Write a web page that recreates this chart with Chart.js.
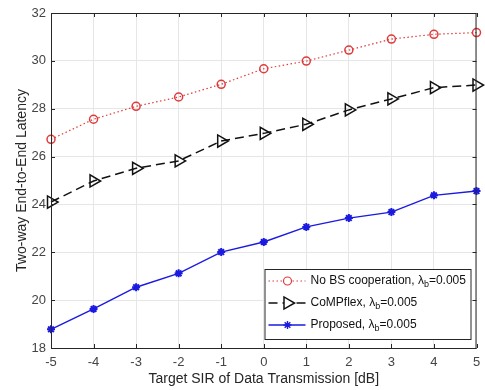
<!DOCTYPE html>
<html>
<head>
<meta charset="utf-8">
<script src="https://cdn.jsdelivr.net/npm/chart.js@4/dist/chart.umd.min.js"></script>
<style>
  html, body { margin: 0; padding: 0; background: #fff; }
  #wrap { width: 485px; height: 390px; }
</style>
</head>
<body>
<div id="wrap"><canvas id="grafico"></canvas></div>
<script>
// --- datos ---
const sirDb = [-5, -4, -3, -2, -1, 0, 1, 2, 3, 4, 5];
const sinCooperacion = [26.72, 27.56, 28.10, 28.49, 29.02, 29.67, 29.99, 30.45, 30.91, 31.11, 31.18];
const compflex = [24.10, 24.98, 25.51, 25.82, 26.65, 26.97, 27.35, 27.95, 28.41, 28.88, 28.99];
const propuesto = [18.78, 19.63, 20.54, 21.12, 22.01, 22.43, 23.06, 23.43, 23.68, 24.38, 24.56];
const yTicks = [18, 20, 22, 24, 26, 28, 30, 32];
const etiquetas = ['No BS cooperation, ', 'CoMPflex, ', 'Proposed, '];
const lambdaTxt = '=0.005';

const FUENTE = '"Liberation Sans", Arial, sans-serif';
const ROJO = '#e03a3a';
const NEGRO = '#111111';
const AZUL = '#1a1ae0';

const series = [
  { label: etiquetas[0], data: sinCooperacion, color: ROJO, dash: [1.5, 2.5], ancho: 1.2, estilo: 'circle', radio: 4, rot: 0 },
  { label: etiquetas[1], data: compflex, color: NEGRO, dash: [9, 5], ancho: 1.5, estilo: 'triangle', radio: 7, rot: 90 },
  { label: etiquetas[2], data: propuesto, color: AZUL, dash: [], ancho: 1.4, estilo: 'star', radio: 4, rot: 0 }
];

// caja alrededor del area de trazado (estilo MATLAB) con marcas hacia dentro
const cajaPlugin = {
  id: 'caja',
  afterDatasetsDraw(chart) {
    const { ctx, chartArea: a, scales } = chart;
    ctx.save();
    ctx.strokeStyle = '#262626';
    ctx.lineWidth = 1;
    ctx.beginPath();
    scales.x.ticks.forEach(t => {
      const px = Math.round(scales.x.getPixelForValue(t.value)) + 0.5;
      ctx.moveTo(px, a.bottom); ctx.lineTo(px, a.bottom - 4);
      ctx.moveTo(px, a.top); ctx.lineTo(px, a.top + 4);
    });
    yTicks.forEach(v => {
      const py = Math.round(scales.y.getPixelForValue(v)) + 0.5;
      ctx.moveTo(a.left, py); ctx.lineTo(a.left + 4, py);
      ctx.moveTo(a.right, py); ctx.lineTo(a.right - 4, py);
    });
    ctx.stroke();
    ctx.strokeRect(a.left + 0.5, a.top + 0.5, a.right - a.left - 1, a.bottom - a.top);
    ctx.restore();
  }
};

// leyenda propia, para poder escribir el subindice de lambda
const leyendaPlugin = {
  id: 'leyenda',
  afterDraw(chart) {
    const { ctx, chartArea: a } = chart;
    const x0 = a.right - 212, y0 = a.bottom - 79, w = 206, h = 70;
    ctx.save();
    ctx.fillStyle = '#fff';
    ctx.fillRect(x0, y0, w, h);
    ctx.strokeStyle = '#262626';
    ctx.lineWidth = 1;
    ctx.strokeRect(x0 + 0.5, y0 + 0.5, w, h);
    series.forEach((s, i) => {
      const y = y0 + 12 + i * 22;
      ctx.strokeStyle = s.color;
      ctx.lineWidth = s.ancho;
      ctx.setLineDash(s.dash);
      ctx.beginPath();
      ctx.moveTo(x0 + 4, y);
      ctx.lineTo(x0 + 41, y);
      ctx.stroke();
      ctx.setLineDash([]);
      ctx.fillStyle = s.estilo === 'star' ? s.color : '#fff';
      Chart.helpers.drawPoint(ctx, {
        pointStyle: s.estilo, radius: s.radio, rotation: s.rot, borderWidth: s.estilo === 'star' ? 2 : 1.5
      }, x0 + 23, y);
      ctx.fillStyle = '#111';
      ctx.font = '12px ' + FUENTE;
      ctx.textBaseline = 'middle';
      let tx = x0 + 46;
      ctx.fillText(s.label + 'λ', tx, y);
      tx += ctx.measureText(s.label + 'λ').width;
      ctx.font = '9px ' + FUENTE;
      ctx.fillText('b', tx, y + 4);
      tx += ctx.measureText('b').width;
      ctx.font = '12px ' + FUENTE;
      ctx.fillText(lambdaTxt, tx, y);
    });
    ctx.restore();
  }
};

new Chart(document.getElementById('grafico'), {
  type: 'line',
  data: {
    datasets: series.map(s => ({
      label: s.label,
      data: sirDb.map((x, i) => ({ x: x, y: s.data[i] })),
      borderColor: s.color,
      borderWidth: s.ancho,
      borderDash: s.dash,
      pointStyle: s.estilo,
      pointRadius: s.radio,
      pointRotation: s.rot,
      pointBorderWidth: s.estilo === 'star' ? 2 : 1.5,
      pointBorderColor: s.color,
      pointBackgroundColor: s.estilo === 'star' ? s.color : 'rgba(255,255,255,0)',
      tension: 0,
      fill: false,
      clip: false
    }))
  },
  options: {
    responsive: true,
    maintainAspectRatio: false,
    animation: false,
    layout: { padding: { left: 0, top: 13, right: 4, bottom: 0 } },
    plugins: { legend: { display: false }, tooltip: { enabled: false } },
    scales: {
      x: {
        type: 'linear', min: -5, max: 5,
        afterFit: s => { s.height = 42; s.paddingLeft = 0; s.paddingRight = 0; },
        ticks: { stepSize: 1, color: '#444', font: { family: FUENTE, size: 13 }, padding: 7 },
        grid: { color: '#e6e6e6', drawTicks: false },
        border: { display: false },
        title: { display: true, text: 'Target SIR of Data Transmission [dB]', color: '#262626', font: { family: FUENTE, size: 14 }, padding: { top: 0, bottom: 2 } }
      },
      y: {
        type: 'linear', min: 18, max: 32,
        afterFit: s => { s.width = 51; s.paddingTop = 0; s.paddingBottom = 0; },
        afterBuildTicks: s => { s.ticks = yTicks.map(v => ({ value: v })); },
        ticks: { color: '#444', font: { family: FUENTE, size: 13 }, padding: 5 },
        grid: { color: '#e6e6e6', drawTicks: false },
        border: { display: false },
        title: { display: true, text: 'Two-way End-to-End Latency', color: '#262626', font: { family: FUENTE, size: 14 }, padding: { top: 14, bottom: 0 } }
      }
    }
  },
  plugins: [cajaPlugin, leyendaPlugin]
});
</script>
</body>
</html>
